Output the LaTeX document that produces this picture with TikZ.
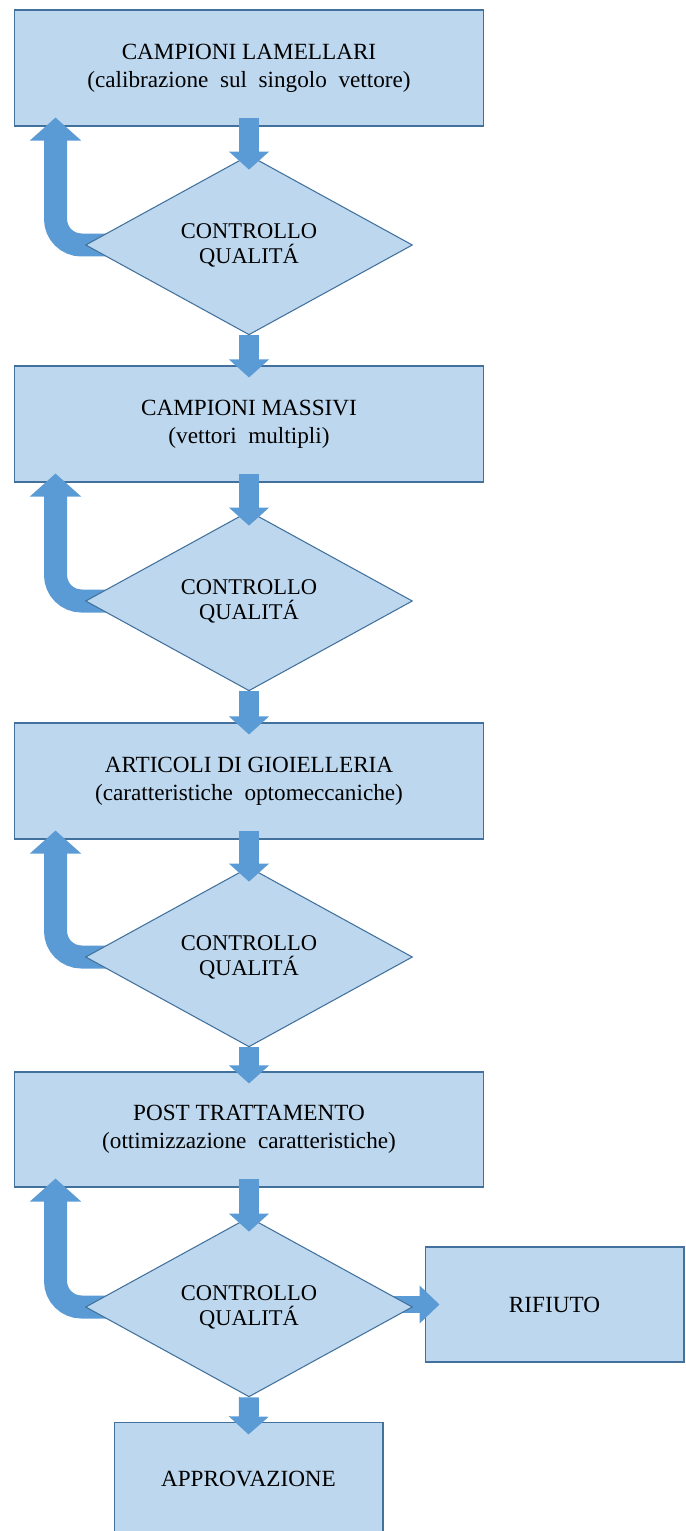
\documentclass[tikz,border=0pt]{standalone}
\usepackage{fontspec}
\setmainfont{Liberation Serif}
\usetikzlibrary{arrows.meta,shapes.geometric}

\definecolor{boxfill}{HTML}{BDD7EE}
\definecolor{boxline}{HTML}{41719C}
\definecolor{arrowblue}{HTML}{5B9BD5}

\pgfdeclarelayer{boxes}
\pgfdeclarelayer{loops}
\pgfsetlayers{boxes,loops,main}

\newcommand{\widesp}{\spaceskip=.5em\relax}

\begin{document}
\begin{tikzpicture}[
  x=0.02cm, y=-0.02cm,
  font=\fontsize{13.2}{16}\selectfont,
  stepbox/.style={draw=boxline, fill=boxfill, line width=0.6pt, minimum width=9.38cm,
                  minimum height=2.32cm, align=center, inner sep=2pt},
  check/.style={diamond, draw=boxline, fill=boxfill, line width=0.6pt, minimum width=6.54cm,
                minimum height=2.88cm, align=center, inner sep=0pt,
                font=\fontsize{12.8}{14.2}\selectfont},
  down/.style={arrowblue, line width=0.4cm, -{Triangle[width=0.78cm,length=0.36cm]}},
  back/.style={arrowblue, line width=0.46cm, rounded corners=0.52cm,
               -{Triangle[width=1cm,length=0.46cm]}},
  side/.style={arrowblue, line width=0.34cm, -{Triangle[width=0.74cm,length=0.4cm]}},
]
  \useasboundingbox (0,0) rectangle (686,1531);

  % process steps
  \begin{pgfonlayer}{boxes}
    \node[stepbox] (b1) at (249,68) {CAMPIONI LAMELLARI\\ \widesp(calibrazione sul singolo vettore)};
    \node[stepbox] (b2) at (249,424) {CAMPIONI MASSIVI\\ \widesp(vettori multipli)};
    \node[stepbox] (b3) at (249,781) {ARTICOLI DI GIOIELLERIA\\ \widesp(caratteristiche optomeccaniche)};
    \node[stepbox, minimum height=2.3cm] (b4) at (249,1129.5) {POST TRATTAMENTO\\ \widesp(ottimizzazione caratteristiche)};
    \node[stepbox, minimum width=5.18cm, minimum height=2.3cm] (rif) at (554.5,1304.5) {RIFIUTO};
    \node[stepbox, minimum width=5.38cm, minimum height=2.26cm] (appr) at (248.5,1478.5) {APPROVAZIONE};
  \end{pgfonlayer}

  % quality checks
  \node[check] (q1) at (249,245) {CONTROLLO\\QUALITÁ};
  \node[check] (q2) at (249,601) {CONTROLLO\\QUALITÁ};
  \node[check] (q3) at (249,957) {CONTROLLO\\QUALITÁ};
  \node[check] (q4) at (249,1307) {CONTROLLO\\QUALITÁ};

  % feedback loops
  \begin{pgfonlayer}{loops}
    \foreach \b/\q in {b1/q1,b2/q2,b3/q3,b4/q4}
      \draw[back] ([xshift=0.6cm]\q.west) -| ([xshift=0.83cm,yshift=0.18cm]\b.south west);
    \draw[side] ([xshift=-0.5cm]q4.east |- rif.west) -- ([xshift=0.3cm]rif.west);
  \end{pgfonlayer}

  % main flow
  \foreach \b/\q in {b1/q1,b2/q2,b3/q3,b4/q4}
    \draw[down] ([yshift=0.18cm]\b.south) -- ([yshift=-0.3cm]\q.north);
  \foreach \q/\b in {q1/b2,q2/b3,q3/b4}
    \draw[down] (\q.south) -- ([yshift=-0.24cm]\b.north);
  \draw[down] (q4.south) -- ([yshift=-0.26cm]appr.north);
\end{tikzpicture}
\end{document}
